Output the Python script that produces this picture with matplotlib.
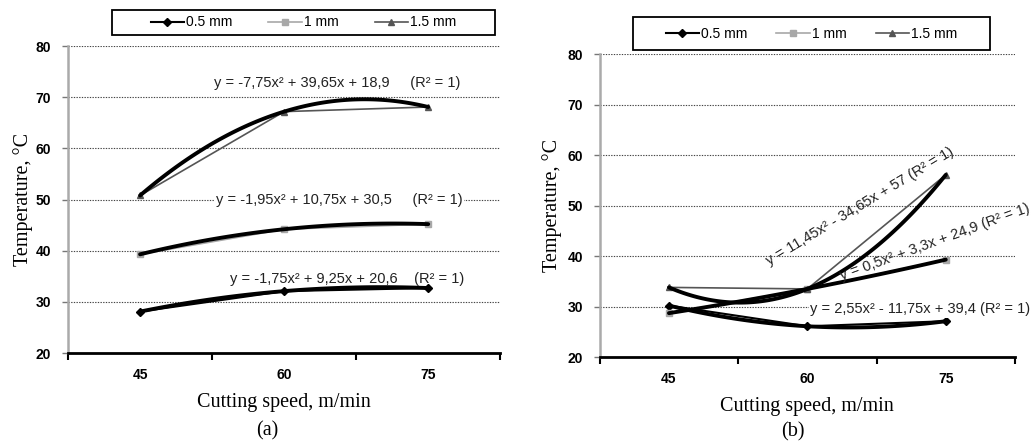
import matplotlib
matplotlib.use("Agg")
import matplotlib.pyplot as plt
from matplotlib.patches import Rectangle
import numpy as np

# cutting speed categories (m/min)
speeds = ["45", "60", "75"]
series_names = ["0.5 mm", "1 mm", "1.5 mm"]

# temperature, panel (a)
temp_a_05 = [28.1, 32.1, 32.7]
temp_a_10 = [39.3, 44.2, 45.2]
temp_a_15 = [50.8, 67.2, 68.1]

# temperature, panel (b)
temp_b_05 = [30.2, 26.1, 27.1]
temp_b_10 = [28.7, 33.5, 39.3]
temp_b_15 = [33.8, 33.5, 56.1]

eq_a = ["y = -1,75x\u00b2 + 9,25x + 20,6    (R\u00b2 = 1)",
        "y = -1,95x\u00b2 + 10,75x + 30,5     (R\u00b2 = 1)",
        "y = -7,75x\u00b2 + 39,65x + 18,9     (R\u00b2 = 1)"]
eq_b = ["y = 2,55x\u00b2 - 11,75x + 39,4 (R\u00b2 = 1)",
        "y = 0,5x\u00b2 + 3,3x + 24,9 (R\u00b2 = 1)",
        "y = 11,45x\u00b2 - 34,65x + 57 (R\u00b2 = 1)"]

styles = [dict(color="black", marker="D", ms=4, lw=1.5),
          dict(color="#a8a8a8", marker="s", ms=5, lw=1.2),
          dict(color="#555555", marker="^", ms=5, lw=1.2)]

serif = "Liberation Serif"
sans = "Liberation Sans"
W, H = 1034, 448

fig = plt.figure(figsize=(10.34, 4.48), dpi=100)
ax1 = fig.add_axes([0.0658, 0.212, 0.418, 0.685])
ax2 = fig.add_axes([0.580, 0.203, 0.4016, 0.676])

xpos = np.arange(len(speeds)) + 0.5
xs = np.linspace(xpos[0], xpos[-1], 100)


def draw(ax, data, ylab_x):
    handles = []
    for vals, st, name in zip(data, styles, series_names):
        h, = ax.plot(xpos, vals, color=st["color"], marker=st["marker"],
                     markersize=st["ms"], lw=st["lw"], label=name, zorder=3)
        handles.append(h)
        # second order trendline through the points
        c = np.polyfit(xpos, vals, 2)
        ax.plot(xs, np.polyval(c, xs), color="black", lw=2.8, zorder=4,
                solid_capstyle="round")
    ax.set_xlim(0, 3)
    ax.set_ylim(20, 80)
    ax.set_xticks([0, 1, 2, 3])
    ax.set_xticklabels([])
    ax.set_xticks(xpos, minor=True)
    ax.set_xticklabels(speeds, minor=True, fontfamily=sans, fontweight="bold",
                       fontsize=10)
    ax.tick_params(axis="x", which="minor", length=0, pad=10.5)
    ax.tick_params(axis="x", which="major", length=5, width=1.5, direction="out")
    ax.set_yticks([20, 30, 40, 50, 60, 70, 80])
    ax.tick_params(axis="y", length=4, width=1, color="#777777", pad=8)
    for lab in ax.get_yticklabels():
        lab.set_fontfamily(sans)
        lab.set_fontweight("bold")
        lab.set_fontsize(10)
    for y in range(30, 81, 10):
        ax.axhline(y, color="#444444", lw=0.8, ls=(0, (1.2, 1.2)), zorder=1)
    ax.spines["top"].set_visible(False)
    ax.spines["right"].set_visible(False)
    ax.spines["left"].set_color("#aaaaaa")
    ax.spines["left"].set_linewidth(1.8)
    ax.spines["bottom"].set_linewidth(2)
    ax.set_xlabel("Cutting speed, m/min", fontfamily=serif, fontsize=14.5,
                  labelpad=8)
    ax.set_ylabel("Temperature, \u00b0C", fontfamily=serif, fontsize=14.5)
    ax.yaxis.set_label_coords(ylab_x, 0.5)
    return handles


h1 = draw(ax1, [temp_a_05, temp_a_10, temp_a_15], -0.081)
h2 = draw(ax2, [temp_b_05, temp_b_10, temp_b_15], -0.092)

# legend boxes (pixel boxes x0, y0, w, h from the top-left corner)
for handles, box, cs in [(h1, (112, 10, 383, 25), 2.6), (h2, (633, 17, 357, 33), 2.1)]:
    x0, y0, w, h = box
    fig.patches.append(Rectangle((x0 / W, 1 - (y0 + h) / H), w / W, h / H,
                                 transform=fig.transFigure, facecolor="white",
                                 edgecolor="black", lw=1.3, zorder=0))
    fig.legend(handles=handles, loc="center", ncol=3,
               bbox_to_anchor=((x0 + w / 2) / W, 1 - (y0 + h / 2) / H),
               prop={"family": sans, "size": 10}, frameon=False,
               handlelength=2.4, handletextpad=0.15, columnspacing=cs,
               borderpad=0, borderaxespad=0)

# equation labels, panel (a)
eq_font = dict(fontfamily=sans, fontsize=10.5, color="#222222", zorder=5)
ax1.text(1.94, 34.4, eq_a[0], ha="center", va="center", **eq_font)
ax1.text(1.88, 50.0, eq_a[1], ha="center", va="center", **eq_font,
         bbox=dict(facecolor="white", edgecolor="none", pad=1))
ax1.text(1.87, 72.8, eq_a[2], ha="center", va="center", **eq_font)

# equation labels, panel (b)
ax2.text(1.52, 29.5, eq_b[0], ha="left", va="center", **eq_font,
         bbox=dict(facecolor="white", edgecolor="none", pad=1))
ax2.text(2.42, 42.8, eq_b[1], ha="center", va="center", rotation=20,
         rotation_mode="anchor", **eq_font)
ax2.text(1.88, 49.9, eq_b[2], ha="center", va="center", rotation=31,
         rotation_mode="anchor", **eq_font)

fig.text(267 / W, 1 - 431 / H, "(a)", ha="center", va="center",
         fontfamily=serif, fontsize=14.5)
fig.text(793 / W, 1 - 432 / H, "(b)", ha="center", va="center",
         fontfamily=serif, fontsize=14.5)

fig.savefig("out.png", dpi=100)
